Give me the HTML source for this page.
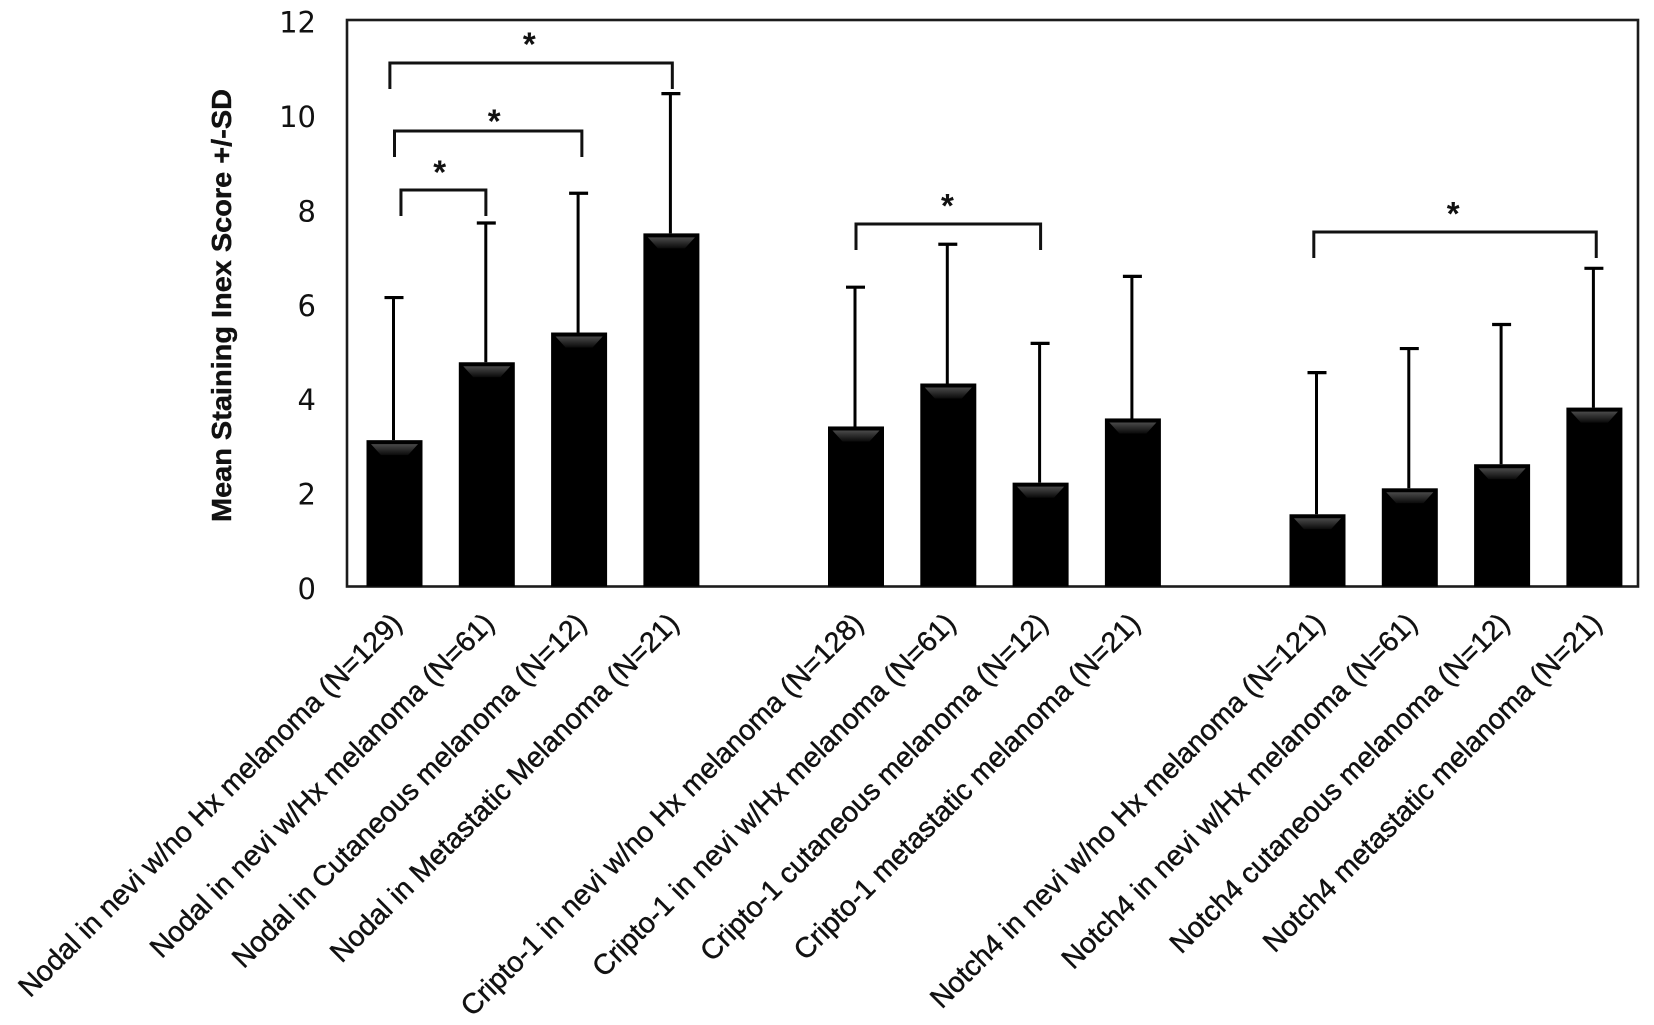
<!DOCTYPE html>
<html lang="en">
<head>
<meta charset="utf-8">
<title>Mean Staining Index Score</title>
<style>
html,body{margin:0;padding:0;background:#fff;}
#chart{display:block;width:1654px;height:1025px;}
text{fill:#111;}
</style>
</head>
<body>
<svg id="chart" width="1654" height="1025" viewBox="0 0 1654 1025" xmlns="http://www.w3.org/2000/svg">
<defs>
<linearGradient id="sheen" x1="0" y1="0" x2="0" y2="1">
<stop offset="0" stop-color="#4a4a4a"/>
<stop offset="1" stop-color="#0a0a0a"/>
</linearGradient>
</defs>
</svg>
<script>
const categories = [
  "Nodal in nevi w/no Hx melanoma (N=129)",
  "Nodal in nevi w/Hx melanoma (N=61)",
  "Nodal in Cutaneous melanoma (N=12)",
  "Nodal in Metastatic Melanoma (N=21)",
  "Cripto-1 in nevi w/no Hx melanoma (N=128)",
  "Cripto-1 in nevi w/Hx melanoma (N=61)",
  "Cripto-1 cutaneous melanoma (N=12)",
  "Cripto-1 metastatic melanoma (N=21)",
  "Notch4 in nevi w/no Hx melanoma (N=121)",
  "Notch4 in nevi w/Hx melanoma (N=61)",
  "Notch4 cutaneous melanoma (N=12)",
  "Notch4 metastatic melanoma (N=21)"
];
const means = [3.1, 4.75, 5.38, 7.48, 3.39, 4.3, 2.2, 3.56, 1.53, 2.08, 2.59, 3.79];
const errorTops = [6.12, 7.7, 8.33, 10.44, 6.34, 7.25, 5.15, 6.57, 4.53, 5.04, 5.55, 6.74];
const yTicks = [0, 2, 4, 6, 8, 10, 12];
const bracketFrom = [-0.05, 0, 0.07, 5, 9.96];
const bracketTo = [3.01, 2.03, 0.99, 7, 13.02];
const bracketLevel = [11.09, 9.65, 8.4, 7.68, 7.51];
const bracketStarX = [1.46, 1.08, 0.49, 5.99, 11.47];
const bracketStarLevel = [11.57, 9.93, 8.85, 8.15, 7.98];

const svg = document.getElementById('chart');
const NS = 'http://www.w3.org/2000/svg';
const plot = {left: 347, right: 1638, top: 20, bottom: 586.5};
const unit = (plot.bottom - plot.top) / 12;
function yScale(v) { return plot.bottom - v * unit; }
function slotX(s) { return 394.5 + s * 92.3; }
function catSlot(i) { return i + Math.floor(i / 4); }
function make(tag, attrs, text) {
  const el = document.createElementNS(NS, tag);
  for (const k in attrs) el.setAttribute(k, attrs[k]);
  if (text !== undefined) el.textContent = text;
  svg.appendChild(el);
  return el;
}

const frame = make('rect', {x: plot.left, y: plot.top, width: plot.right - plot.left, height: plot.bottom - plot.top, fill: 'none', stroke: '#1c1c1c', 'stroke-width': 2.6});



yTicks.forEach(function (t) {
  const label = make('text', {x: 316, y: yScale(t) + 12.5, 'text-anchor': 'end', 'font-family': '"DejaVu Sans", sans-serif', 'font-size': 29}, String(t));
  
  
});

const title = make('text', {transform: 'translate(231,522) rotate(-90)', 'font-family': '"Liberation Sans", sans-serif', 'font-weight': 'bold', 'font-size': 28, textLength: 433, lengthAdjust: 'spacingAndGlyphs', stroke: '#111', 'stroke-width': 0.4}, 'Mean Staining Inex Score +/-SD');



const barWidth = 56;
categories.forEach(function (name, i) {
  const cx = slotX(catSlot(i));
  const top = yScale(means[i]);
  const errTop = yScale(errorTops[i]);

  const stem = make('line', {x1: cx - 1, x2: cx - 1, y1: errTop, y2: top, stroke: '#000', 'stroke-width': 3});
  
  

  const cap = make('line', {x1: cx - 10, x2: cx + 9, y1: errTop, y2: errTop, stroke: '#000', 'stroke-width': 3.2});
  
  

  const bar = make('rect', {x: cx - barWidth / 2, y: top, width: barWidth, height: plot.bottom - top, fill: '#000'});
  
  

  const inset = 4.5;
  const sheenPts = [
    [cx - barWidth / 2 + inset, top + 4],
    [cx + barWidth / 2 - inset, top + 4],
    [cx + barWidth / 2 - inset - 10, top + 15],
    [cx - barWidth / 2 + inset + 10, top + 15]
  ].map(function (p) { return p.join(','); }).join(' ');
  const sheen = make('polygon', {points: sheenPts, fill: 'url(#sheen)'});
  
  

  const lx = cx + 9;
  const ly = 625;
  const label = make('text', {transform: 'translate(' + lx + ',' + ly + ') rotate(-45)', 'text-anchor': 'end', 'font-family': '"Liberation Sans", sans-serif', 'font-size': 28.5, stroke: '#111', 'stroke-width': 0.45}, name);
  
  
});

bracketFrom.forEach(function (from, i) {
  const x1 = slotX(from);
  const x2 = slotX(bracketTo[i]);
  const y = yScale(bracketLevel[i]);
  const legEnd = y + 26;
  const bracket = make('path', {d: 'M' + x1 + ' ' + legEnd + 'V' + y + 'H' + x2 + 'V' + legEnd, fill: 'none', stroke: '#111', 'stroke-width': 3});
  
  

  const star = make('text', {x: slotX(bracketStarX[i]), y: yScale(bracketStarLevel[i]) + 15, 'text-anchor': 'middle', 'font-family': '"Liberation Sans", sans-serif', 'font-size': 33, 'font-weight': 'bold'}, '*');
  
  
});
</script>
</body>
</html>
